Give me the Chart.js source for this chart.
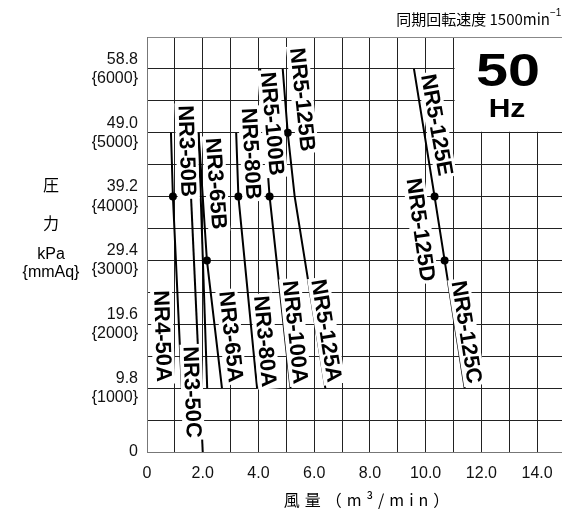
<!DOCTYPE html>
<html>
<head>
<meta charset="utf-8">
<script src="https://cdn.jsdelivr.net/npm/chart.js@4"></script>
<style>
  html, body { margin: 0; padding: 0; background: #fff; overflow: hidden; }
  #wrap { width: 565px; height: 510px; }
</style>
</head>
<body>
<div id="wrap"><canvas id="fanChart"></canvas></div>
<script>
// tick labels
const xTickLabels = ['0', '2.0', '4.0', '6.0', '8.0', '10.0', '12.0', '14.0'];
const yTickKpa = ['0', '9.8', '19.6', '29.4', '39.2', '49.0', '58.8'];
const yTickMmAq = ['', '{1000}', '{2000}', '{3000}', '{4000}', '{5000}', '{6000}'];

// curves: flow (m3/min) and pressure (kPa)
const nr350Flow = [0.86, 0.93, 1.25];
const nr350Press = [49.0, 39.2, 9.8];
const nr350cFlow = [1.58, 2.0];
const nr350cPress = [39.2, 0];
const nr365xFlow = [1.85, 2.16];
const nr365xPress = [49.0, 9.8];
const nr365Flow = [1.85, 2.15, 2.69];
const nr365Press = [49.0, 29.4, 9.8];
const nr580Flow = [3.20, 3.28, 3.95];
const nr580Press = [49.0, 39.2, 9.8];
const nr5100Flow = [4.06, 4.40, 5.15];
const nr5100Press = [58.8, 39.2, 9.8];
const nr5125Flow = [4.87, 5.05, 5.30, 6.40];
const nr5125Press = [58.8, 49.0, 39.2, 9.8];
const nr5125cdeFlow = [9.58, 10.32, 10.68, 11.40];
const nr5125cdePress = [58.8, 39.2, 29.4, 9.8];

// which points of each curve carry a dot
const nr350Dots = [0, 1, 0];
const nr365Dots = [0, 1, 0];
const nr580Dots = [0, 1, 0];
const nr5100Dots = [0, 1, 0];
const nr5125Dots = [0, 1, 0, 0];
const nr5125cdeDots = [0, 1, 1, 0];

// model names and where they sit (data coords) with their tilt
const modelNames = ['NR3-50B', 'NR3-65B', 'NR5-80B', 'NR5-100B', 'NR5-125B', 'NR5-125E', 'NR5-125D', 'NR5-125C',
  'NR4-50A', 'NR3-50C', 'NR3-65A', 'NR3-80A', 'NR5-100A', 'NR5-125A'];
const nameAtFlow = [1.44, 2.48, 3.74, 4.50, 5.58, 10.40, 9.82, 11.47, 0.56, 1.62, 3.02, 4.24, 5.32, 6.44];
const nameAtPress = [46.2, 41.2, 45.8, 50.4, 54.1, 50.2, 34.1, 18.4, 17.8, 9.2, 17.7, 17.0, 18.4, 18.6];
const nameTilt = [88, 86, 87, 85, 84, 80, 82, 81, 88, 88, 84, 85, 84, 81];

function pts(xs, ys) {
  return xs.map((x, i) => ({ x: x, y: ys[i] }));
}

function curve(xs, ys, dots) {
  return {
    data: pts(xs, ys),
    showLine: true,
    borderColor: '#000',
    borderWidth: 2,
    pointRadius: dots ? dots.map(d => d ? 4 : 0) : 0,
    pointBackgroundColor: '#000',
    pointBorderWidth: 0,
    tension: 0
  };
}

const LABEL_FONT = 'bold 22px "Liberation Sans", Arial, sans-serif';

const decorations = {
  id: 'decorations',
  beforeDatasetsDraw(chart) {
    const ctx = chart.ctx;
    const xs = chart.scales.x, ys = chart.scales.y;
    const area = chart.chartArea;
    // white panel behind "50 Hz"
    const left = xs.getPixelForValue(11) + 1;
    const bottom = ys.getPixelForValue(49.0) - 1;
    ctx.save();
    ctx.fillStyle = '#fff';
    ctx.fillRect(left, area.top + 1, area.right - left + 5, bottom - area.top - 1);
    ctx.restore();
  },
  afterDatasetsDraw(chart) {
    const ctx = chart.ctx;
    const xs = chart.scales.x, ys = chart.scales.y;
    ctx.save();
    ctx.font = LABEL_FONT;
    ctx.textAlign = 'center';
    ctx.textBaseline = 'middle';
    modelNames.forEach((name, i) => {
      const px = xs.getPixelForValue(nameAtFlow[i]);
      const py = ys.getPixelForValue(nameAtPress[i]);
      const w = ctx.measureText(name).width;
      ctx.save();
      ctx.translate(px, py);
      ctx.rotate(nameTilt[i] * Math.PI / 180);
      ctx.fillStyle = '#fff';
      ctx.fillRect(-w / 2 - 2, -11, w + 4, 22);
      ctx.fillStyle = '#000';
      ctx.fillText(name, 0, 1);
      ctx.restore();
    });

    // 50 Hz mark
    ctx.fillStyle = '#000';
    ctx.save();
    ctx.translate(508, 73);
    ctx.scale(1.25, 1);
    ctx.font = 'bold 46px "Liberation Sans", Arial, sans-serif';
    ctx.fillText('50', 0, 0);
    ctx.restore();
    ctx.save();
    ctx.translate(507, 110);
    ctx.scale(1.2, 1);
    ctx.font = 'bold 25px "Liberation Sans", Arial, sans-serif';
    ctx.fillText('Hz', 0, 0);
    ctx.restore();

    // top right note
    ctx.font = '15px "Noto Sans CJK JP", sans-serif';
    ctx.textAlign = 'right';
    ctx.fillText('同期回転速度 1500min', 550, 19);
    ctx.font = '10px "Liberation Sans", Arial, sans-serif';
    ctx.textAlign = 'left';
    ctx.fillText('−1', 550, 13);

    // y title
    ctx.textAlign = 'center';
    ctx.font = '16px "Noto Sans CJK JP", sans-serif';
    ctx.fillText('圧', 51, 185);
    ctx.fillText('力', 51, 223);
    ctx.font = '16px "Liberation Sans", Arial, sans-serif';
    ctx.fillText('kPa', 51, 255);
    ctx.fillText('{mmAq}', 51, 273);

    // x title
    ctx.font = '16px "Noto Sans CJK JP", sans-serif';
    ctx.letterSpacing = '5px';
    ctx.fillText('風量（m³/min）', 369, 500);
    ctx.restore();
  }
};

new Chart(document.getElementById('fanChart'), {
  type: 'scatter',
  data: {
    datasets: [
      curve(nr350Flow, nr350Press, nr350Dots),
      curve(nr350cFlow, nr350cPress),
      curve(nr365xFlow, nr365xPress),
      curve(nr365Flow, nr365Press, nr365Dots),
      curve(nr580Flow, nr580Press, nr580Dots),
      curve(nr5100Flow, nr5100Press, nr5100Dots),
      curve(nr5125Flow, nr5125Press, nr5125Dots),
      curve(nr5125cdeFlow, nr5125cdePress, nr5125cdeDots)
    ]
  },
  options: {
    responsive: true,
    maintainAspectRatio: false,
    animation: false,
    layout: { padding: { top: 37, left: 0, right: 0, bottom: 0 } },
    plugins: {
      legend: { display: false },
      tooltip: { enabled: false }
    },
    scales: {
      x: {
        type: 'linear',
        min: 0,
        max: 15,
        afterBuildTicks(scale) {
          const t = [];
          for (let i = 0; i <= 15; i++) t.push({ value: i });
          scale.ticks = t;
        },
        afterFit(scale) {
          scale.height = 58;
          scale.paddingRight = 0;
          scale.paddingLeft = 0;
        },
        grid: { color: '#222', lineWidth: 1, drawTicks: false },
        border: { display: true, color: '#777', width: 1 },
        ticks: {
          autoSkip: false,
          maxRotation: 0,
          padding: 12,
          color: '#111',
          font: { family: '"Liberation Sans", Arial, sans-serif', size: 16 },
          callback(v) { return v % 2 === 0 ? xTickLabels[v / 2] : ''; }
        }
      },
      y: {
        type: 'linear',
        min: 0,
        max: 63.7,
        afterBuildTicks(scale) {
          const t = [];
          for (let i = 0; i <= 13; i++) t.push({ value: +(i * 4.9).toFixed(1) });
          scale.ticks = t;
        },
        afterFit(scale) {
          scale.width = 147;
          scale.paddingTop = 0;
          scale.paddingBottom = 0;
        },
        grid: {
          color: ctx => ctx.index === 13 ? '#888' : '#222',
          lineWidth: 1,
          drawTicks: false
        },
        border: { display: true, color: '#777', width: 1 },
        ticks: {
          autoSkip: false,
          padding: 9,
          color: '#111',
          font: { family: '"Liberation Sans", Arial, sans-serif', size: 16 },
          callback(v, i) {
            if (i % 2 !== 0) return '';
            const k = i / 2;
            return yTickMmAq[k] ? [yTickKpa[k], yTickMmAq[k]] : yTickKpa[k];
          }
        }
      }
    }
  },
  plugins: [decorations]
});
</script>
</body>
</html>
